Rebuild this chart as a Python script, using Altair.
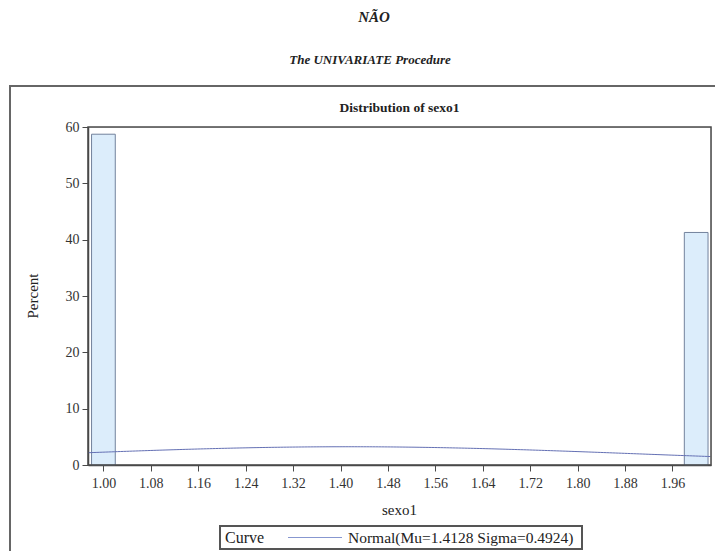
import altair as alt
import pandas as pd

# Histogram of sexo1 (percent per bin) and fitted normal parameters
bin_mid = [1.00, 2.00]
percent = [58.72, 41.28]
bin_width = 0.04
mu = 1.4128
sigma = 0.4924

x_ticks = [1.00, 1.08, 1.16, 1.24, 1.32, 1.40, 1.48, 1.56, 1.64, 1.72, 1.80, 1.88, 1.96]
y_ticks = [0, 10, 20, 30, 40, 50, 60]
x_domain = [0.974, 2.025]
y_domain = [0, 60]

W, H = 623, 338
SERIF = "Liberation Serif"
FRAME = "#4a4a4a"

bars = pd.DataFrame({
    "lo": [m - bin_width / 2 for m in bin_mid],
    "hi": [m + bin_width / 2 for m in bin_mid],
    "pct": percent,
})

xs = alt.Scale(domain=x_domain, nice=False, zero=False)
ys = alt.Scale(domain=y_domain, nice=False)

x_axis = alt.Axis(values=x_ticks, format=".2f", title=None, grid=False,
                  labelFont=SERIF, labelFontSize=14, labelColor="#333",
                  tickSize=6, tickColor=FRAME, domainColor=FRAME, domainWidth=1.5,
                  labelPadding=5)
y_axis = alt.Axis(values=y_ticks, title=None, grid=False,
                  labelFont=SERIF, labelFontSize=14, labelColor="#333",
                  tickSize=6, tickColor=FRAME, domainColor=FRAME, domainWidth=1.5,
                  labelPadding=3)

hist = alt.Chart(bars).mark_rect(fill="#dcedfb", stroke="#72829c", strokeWidth=1).encode(
    x=alt.X("lo:Q", scale=xs, axis=x_axis),
    x2="hi:Q",
    y=alt.Y("pct:Q", scale=ys, axis=y_axis),
    y2=alt.datum(0),
)

# Normal density scaled to percent per bin, from the fitted Mu and Sigma
curve = (
    alt.Chart(alt.sequence(start=x_domain[0], stop=x_domain[1] + 0.001, step=0.005, as_="x"))
    .transform_calculate(
        pct=f"100*{bin_width}*exp(-0.5*pow((datum.x-{mu})/{sigma},2))/({sigma}*sqrt(2*PI))"
    )
    .mark_line(color="#6470b4", strokeWidth=1)
    .encode(x=alt.X("x:Q", scale=xs), y=alt.Y("pct:Q", scale=ys))
)

# Plot frame
frame = alt.Chart().mark_rect(fill=None, stroke=FRAME, strokeWidth=1.5).encode(
    x=alt.value(0), x2=alt.value(W), y=alt.value(0), y2=alt.value(H)
)

# Outer page box
outer = alt.Chart().mark_rect(fill=None, stroke="#666", strokeWidth=2, clip=False).encode(
    x=alt.value(-78), x2=alt.value(640), y=alt.value(-41), y2=alt.value(450)
)


def label(text, x, y, size, weight="normal", style="normal", angle=0, align="center"):
    return alt.Chart().mark_text(
        text=text, font=SERIF, fontSize=size, fontWeight=weight, fontStyle=style,
        angle=angle, align=align, baseline="middle", color="#222",
    ).encode(x=alt.value(x), y=alt.value(y))


texts = [
    label("NÃO", 286, -110, 15, "bold", "italic"),
    label("The UNIVARIATE Procedure", 282, -67, 13, "bold", "italic"),
    label("Distribution of sexo1", W / 2, -19, 13.5, "bold"),
    label("Percent", -55, H / 2, 15, angle=270),
    label("sexo1", W / 2, 383, 15),
]

# Legend box
legend_text = f"Normal(Mu={mu} Sigma={sigma})"
leg_box = alt.Chart().mark_rect(fill=None, stroke="#555", strokeWidth=2).encode(
    x=alt.value(132), x2=alt.value(494), y=alt.value(399), y2=alt.value(422)
)
leg_line = alt.Chart().mark_rule(color="#8797d0", strokeWidth=1).encode(
    x=alt.value(200), x2=alt.value(254), y=alt.value(410.5)
)
leg = [
    leg_box,
    leg_line,
    label("Curve", 137, 410.5, 16, align="left"),
    label(legend_text, 260, 410.5, 15.5, align="left"),
]

chart = alt.layer(outer, hist, curve, frame, *texts, *leg).properties(
    width=W, height=H,
    autosize=alt.AutoSizeParams(type="none"),
    padding={"left": 88, "top": 127, "right": 4, "bottom": 86},
).configure_view(stroke=None).configure(background="white")

chart.save("out.html", embed_options={"renderer": "svg", "actions": False})
